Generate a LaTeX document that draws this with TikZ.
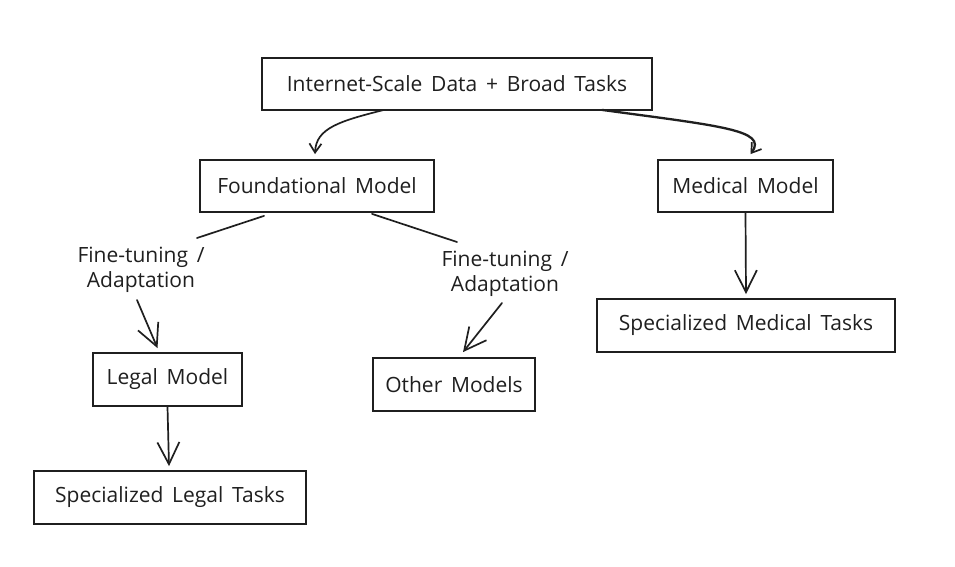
\documentclass[tikz,border=0pt]{standalone}
\usepackage{fontspec}
\setmainfont[WordSpace=1.6]{Open Sans}
\usetikzlibrary{arrows.meta,calc}
\begin{document}
\begin{tikzpicture}[x=1pt,y=-1pt,
  box/.style={draw=black!88, line width=1.8pt, rectangle, inner sep=0pt,
    font=\fontsize{21}{24}\selectfont, text=black!88},
  lbl/.style={align=center, inner sep=0pt, text=black!88,
    font=\fontsize{21}{25}\selectfont},
  conn/.style={draw=black!88, line width=1.7pt, line cap=round},
  arrbig/.style={conn, -{Straight Barb[length=22pt,width=22pt,line width=1.7pt]}},
  arrsmall/.style={conn, -{Straight Barb[length=9pt,width=12pt,line width=1.7pt]}}]
\useasboundingbox[fill=white] (0,0) rectangle (955,567);

\node[box, minimum width=390pt, minimum height=52pt] (top) at (457,84) {Internet-Scale Data + Broad Tasks};
\node[box, minimum width=234pt, minimum height=52pt] (fm) at (317,186) {Foundational Model};
\node[box, minimum width=175pt, minimum height=52pt] (med) at (745.5,186) {Medical Model};
\node[box, minimum width=149pt, minimum height=53pt] (legal) at (167.5,379.5) {Legal Model};
\node[box, minimum width=162pt, minimum height=53pt] (other) at (454,384.5) {Other Models};
\node[box, minimum width=272pt, minimum height=53pt] (slt) at (170,497.5) {Specialized Legal Tasks};
\node[box, minimum width=298pt, minimum height=53pt] (smt) at (746,325.5) {Specialized Medical Tasks};

\node[lbl] (l1) at (141,270) {Fine-tuning /\\Adaptation};
\node[lbl] (l2) at (505,274) {Fine-tuning /\\Adaptation};

% top -> foundational
\draw[arrsmall] ([xshift=-73pt,yshift=1pt]top.south) .. controls (340,121) and (316,128) .. ([xshift=-2pt,yshift=5pt]fm.north);
% top -> medical
\draw[arrsmall, line width=2.3pt] ([xshift=145pt,yshift=1pt]top.south) .. controls (720,126) and (768,130) .. ([xshift=5pt,yshift=5pt]med.north);
% foundational -> legal via label
\draw[conn] ([xshift=-53pt,yshift=-3pt]fm.south) -- ([shift={(56,-32)}]l1.center);
\draw[arrbig] ([shift={(-4,30)}]l1.center) -- ([shift={(-10,-4)}]legal.north);
% foundational -> other via label
\draw[conn] ([xshift=55pt,yshift=-1pt]fm.south) -- ([shift={(-48,-32)}]l2.center);
\draw[arrbig] ([shift={(-3,29)}]l2.center) -- ([shift={(9,-5)}]other.north);
% medical -> specialized medical
\draw[arrbig] (med.south) -- ([yshift=4pt]smt.north);
% legal -> specialized legal
\draw[arrbig] (legal.south) -- ([xshift=-1pt,yshift=4pt]slt.north);
\end{tikzpicture}
\end{document}
